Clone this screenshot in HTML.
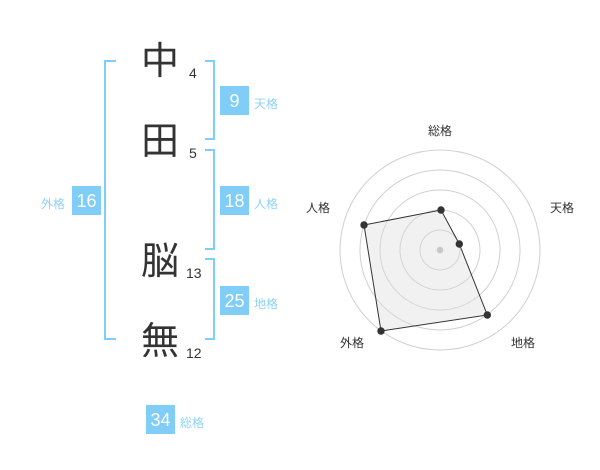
<!DOCTYPE html>
<html><head><meta charset="utf-8">
<style>
html,body{margin:0;padding:0;background:#fff;}
body{width:600px;height:470px;overflow:hidden;}
</style></head>
<body>
<svg width="600" height="470" viewBox="0 0 600 470" xmlns="http://www.w3.org/2000/svg" style="display:block;font-family:'Liberation Sans','Noto Sans CJK JP',sans-serif;">
  <!-- brackets -->
  <g fill="none" stroke="#80cdf8" stroke-width="2">
    <polyline points="116,61 105,61 105,339 116,339"/>
    <polyline points="205,61 214,61 214,139 205,139"/>
    <polyline points="205,150 214,150 214,249 205,249"/>
    <polyline points="205,259 214,259 214,339 205,339"/>
  </g>
  <!-- kanji -->
  <g font-family="'Noto Sans CJK JP','Noto Sans CJK SC',sans-serif" font-size="38" fill="#333" text-anchor="middle">
    <text x="160" y="74">中</text>
    <text x="160" y="154">田</text>
    <text x="160" y="274">脳</text>
    <text x="160" y="354">無</text>
  </g>
  <g font-size="14" fill="#333">
    <text x="189" y="78">4</text>
    <text x="189" y="158">5</text>
    <text x="186" y="278">13</text>
    <text x="186" y="358">12</text>
  </g>
  <!-- boxes -->
  <g fill="#80cdf8">
    <rect x="220" y="86" width="29" height="29"/>
    <rect x="220" y="186" width="29" height="29"/>
    <rect x="72" y="186" width="29" height="29"/>
    <rect x="220" y="286" width="29" height="29"/>
    <rect x="146" y="405" width="29" height="29"/>
  </g>
  <g font-size="18" fill="#fff" text-anchor="middle">
    <text x="234.5" y="107">9</text>
    <text x="234.5" y="207">18</text>
    <text x="86.5" y="207">16</text>
    <text x="234.5" y="307">25</text>
    <text x="160.5" y="426">34</text>
  </g>
  <g font-size="12" fill="#8fd2f7" font-family="'Liberation Sans','Noto Sans CJK JP',sans-serif">
    <text x="254" y="108">天格</text>
    <text x="254" y="208">人格</text>
    <text x="41" y="208">外格</text>
    <text x="254" y="308">地格</text>
    <text x="180" y="427">総格</text>
  </g>
  <!-- radar -->
  <g fill="none" stroke="#d0d0d0" stroke-width="1">
    <circle cx="440" cy="250" r="20"/>
    <circle cx="440" cy="250" r="40"/>
    <circle cx="440" cy="250" r="60"/>
    <circle cx="440" cy="250" r="80"/>
    <circle cx="440" cy="250" r="100"/>
  </g>
  <polygon points="441,210 459.3,244 487.3,315 381,331 364,225" fill="rgba(220,220,220,0.4)" stroke="#333" stroke-width="1"/>
  <circle cx="440" cy="250" r="3.3" fill="#c8c8c8"/>
  <g fill="#333">
    <circle cx="441" cy="210" r="3.7"/>
    <circle cx="459.3" cy="244" r="3.7"/>
    <circle cx="487.3" cy="315" r="3.7"/>
    <circle cx="381" cy="331" r="3.7"/>
    <circle cx="364" cy="225" r="3.7"/>
  </g>
  <g font-size="12" fill="#333" text-anchor="middle">
    <text x="440" y="135">総格</text>
    <text x="562" y="212">天格</text>
    <text x="523" y="347">地格</text>
    <text x="352" y="347">外格</text>
    <text x="318" y="212">人格</text>
  </g>
</svg>
</body></html>
